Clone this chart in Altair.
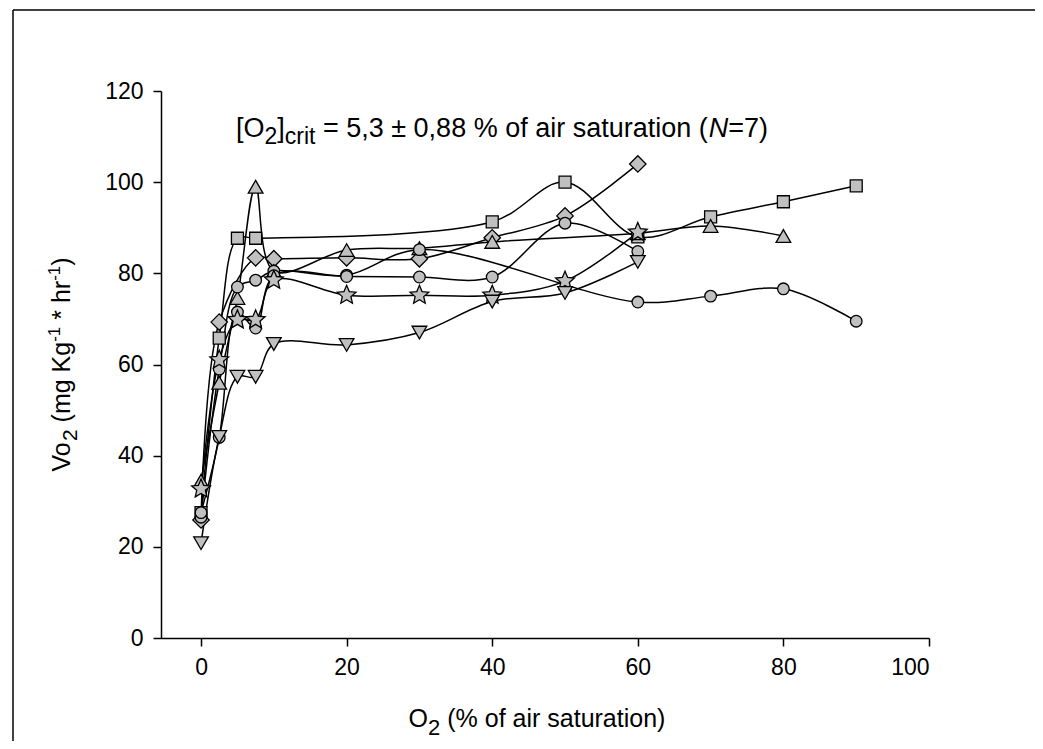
import altair as alt
import pandas as pd

# ---------------- data ----------------
sq_x = [0, 2.5, 5, 7.5, 40, 50, 60, 70, 80, 90]
sq_y = [27.5, 65.8, 87.7, 87.7, 91.3, 100.0, 88.0, 92.4, 95.7, 99.2]

di_x = [0, 2.5, 7.5, 10, 20, 30, 40, 50, 60]
di_y = [25.9, 69.3, 83.4, 83.2, 83.4, 83.2, 87.8, 92.6, 104.0]

tu_x = [0, 2.5, 5, 7.5, 10, 20, 30, 40, 60, 70, 80]
tu_y = [34.5, 56.0, 74.6, 99.0, 80.5, 85.1, 85.5, 86.9, 88.8, 90.4, 88.2]

c1_x = [0, 2.5, 5, 7.5, 10, 20, 30, 60, 70, 80, 90]
c1_y = [26.5, 59.0, 77.0, 78.5, 80.5, 79.6, 85.2, 73.7, 75.0, 76.6, 69.5]

c2_x = [0, 2.5, 5, 7.5, 10, 20, 30, 40, 50, 60]
c2_y = [27.5, 44.0, 71.5, 68.0, 79.5, 79.3, 79.2, 79.2, 91.0, 84.8]

st_x = [0, 2.5, 5, 7.5, 10, 20, 30, 40, 50, 60]
st_y = [32.7, 61.0, 69.8, 69.8, 78.5, 75.2, 75.2, 75.2, 78.3, 89.0]

td_x = [0, 2.5, 5, 7.5, 10, 20, 30, 40, 50, 60]
td_y = [20.8, 44.1, 57.3, 57.3, 64.5, 64.3, 67.0, 73.8, 75.7, 82.5]

series_names = ["squares", "diamonds", "tri_up", "circles1", "circles2", "stars", "tri_down"]
series_x = [sq_x, di_x, tu_x, c1_x, c2_x, st_x, td_x]
series_y = [sq_y, di_y, tu_y, c1_y, c2_y, st_y, td_y]

x_ticks = [0, 20, 40, 60, 80, 100]
y_ticks = [0, 20, 40, 60, 80, 100, 120]

rows = []
for name, xs, ys in zip(series_names, series_x, series_y):
    for xv, yv in zip(xs, ys):
        rows.append({"series": name, "o2": xv, "vo2": yv})
df = pd.DataFrame(rows)

# ---------------- styling ----------------
FONT = "Liberation Sans"
STAR = ("M0,-1 L0.27,-0.37 L0.951,-0.309 L0.437,0.142 L0.588,0.809 "
        "L0,0.46 L-0.588,0.809 L-0.437,0.142 L-0.951,-0.309 L-0.27,-0.37 Z")
marker_shape = {"squares": "square", "diamonds": "diamond", "tri_up": "triangle-up",
                "circles1": "circle", "circles2": "circle", "stars": STAR,
                "tri_down": "triangle-down"}
marker_size = {"squares": 144, "diamonds": 270, "tri_up": 215, "circles1": 135,
               "circles2": 135, "stars": 390, "tri_down": 215}

xscale = alt.Scale(domain=[-5.5, 100], nice=False, zero=False)
yscale = alt.Scale(domain=[0, 120], nice=False, zero=False)

axis_common = dict(
    grid=False, title=None, domainColor="black", domainWidth=1.5,
    tickColor="black", tickWidth=1.5, tickSize=8, labelFont=FONT,
    labelFontSize=23, labelColor="black", labelOverlap=False,
)
xaxis = alt.Axis(values=x_ticks, labelPadding=10, **axis_common)
yaxis = alt.Axis(values=y_ticks, labelPadding=10, **axis_common)

lines = alt.Chart(df).mark_line(
    interpolate="catmull-rom", color="black", strokeWidth=1.5
).encode(
    x=alt.X("o2:Q", scale=xscale, axis=xaxis),
    y=alt.Y("vo2:Q", scale=yscale, axis=yaxis),
    detail="series:N",
    order="o2:Q",
)

point_layers = []
for name in series_names:
    point_layers.append(
        alt.Chart(df).transform_filter(alt.datum.series == name).mark_point(
            shape=marker_shape[name], size=marker_size[name],
            filled=True, fill="#c0c0c0", stroke="black", strokeWidth=1.3, opacity=1
        ).encode(
            x=alt.X("o2:Q", scale=xscale),
            y=alt.Y("vo2:Q", scale=yscale),
        )
    )

# ---------------- rich-text helpers ----------------
W = {' ': 278, '(': 333, ')': 333, '*': 389, ',': 278, '-': 333, '.': 278, '=': 584,
     '%': 889, '±': 584, '[': 278, ']': 278, 'N': 722, 'O': 778, 'V': 667, 'K': 667,
     'a': 556, 'c': 500, 'e': 556, 'f': 278, 'g': 556, 'h': 556, 'i': 222, 'l': 222,
     'm': 833, 'n': 556, 'o': 556, 'r': 333, 's': 500, 't': 278, 'u': 556}


def tw(s, size):
    return sum(W.get(c, 556) for c in s) * size / 1000.0


def one_row():
    return alt.Data(values=[{"k": 1}])


def text_layers(pieces, x0, y0, vertical=False):
    """pieces: (text, size, shift, italic). shift >0 = lower (subscript)."""
    layers = []
    pos = 0.0
    for txt, size, shift, italic in pieces:
        stripped = txt.lstrip(" ")
        lead = tw(txt[: len(txt) - len(stripped)], size)
        kw = dict(text=stripped, font=FONT, fontSize=size, align="left",
                  baseline="alphabetic", color="black")
        if italic:
            kw["fontStyle"] = "italic"
        if vertical:
            kw["angle"] = 270
            enc = dict(x=alt.value(x0 + shift), y=alt.value(y0 - pos - lead))
        else:
            enc = dict(x=alt.value(x0 + pos + lead), y=alt.value(y0 + shift))
        layers.append(alt.Chart(one_row()).mark_text(**kw).encode(**enc))
        pos += tw(txt, size)
    return layers, pos


F = 27
ann_pieces = [("[O", F, 0, False), ("2", 23, 7, False), ("]", F, 0, False),
              ("crit", 23, 7, False),
              (" = 5,3 ± 0,88 % of air saturation (", F, 0, False),
              ("N", F, 0, True), ("=7)", F, 0, False)]
ann_layers, _ = text_layers(ann_pieces, 75, 46)

XT = 25
xt_pieces = [("O", XT, 0, False), ("2", 22, 8, False), (" (% of air saturation)", XT, 0, False)]
xt_len = sum(tw(p[0], p[1]) for p in xt_pieces)
xt_layers, _ = text_layers(xt_pieces, 376 - xt_len / 2, 636)

YT = 25
yt_pieces = [("Vo", YT, 0, False), ("2", 21, 7, False), (" (mg Kg", YT, 0, False),
             ("-1", 17, -10, False), (" * hr", YT, 0, False), ("-1", 17, -10, False),
             (")", YT, 0, False)]
yt_len = sum(tw(p[0], p[1]) for p in yt_pieces)
yt_layers, _ = text_layers(yt_pieces, -91, 273.5 + yt_len / 2, vertical=True)

# ---------------- outer frame ----------------
frame_left = alt.Chart(one_row()).mark_rule(color="black", strokeWidth=1.5).encode(
    x=alt.value(-148), y=alt.value(-81), y2=alt.value(660))
frame_top = alt.Chart(one_row()).mark_rule(color="black", strokeWidth=1.5).encode(
    x=alt.value(-148), x2=alt.value(880), y=alt.value(-81))

chart = alt.layer(
    lines, *point_layers, frame_left, frame_top, *ann_layers, *xt_layers, *yt_layers
).properties(
    width=768, height=547,
    autosize=alt.AutoSizeParams(type="none"),
    padding={"left": 153, "top": 83, "right": 106, "bottom": 103},
).configure_view(strokeWidth=0)

chart.save("out.html", embed_options={"renderer": "svg", "actions": False})
